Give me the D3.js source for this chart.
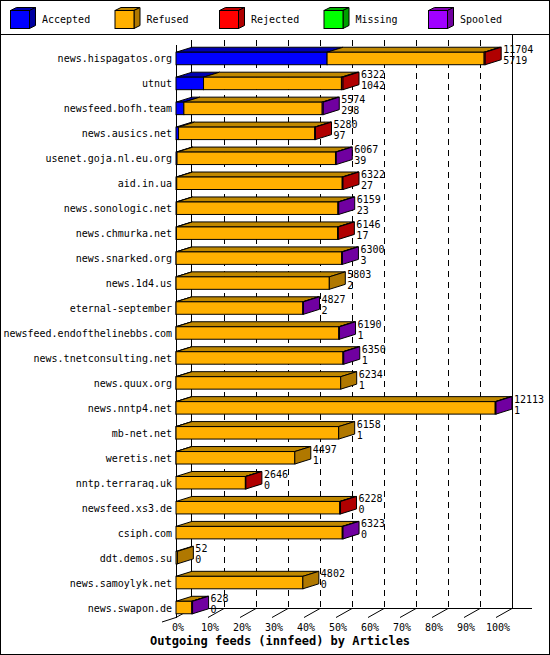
<!DOCTYPE html>
<html><head><meta charset="utf-8">
<script src="https://cdn.jsdelivr.net/npm/d3@7"></script>
<style>body{margin:0;background:#fff}text{font-family:"DejaVu Sans Mono",monospace;font-size:10px}</style>
</head><body><svg id="c" width="550" height="655"></svg>
<script>
// feeds, top to bottom
const feeds = ["news.hispagatos.org","utnut","newsfeed.bofh.team","news.ausics.net","usenet.goja.nl.eu.org","aid.in.ua","news.sonologic.net","news.chmurka.net","news.snarked.org","news.1d4.us","eternal-september","newsfeed.endofthelinebbs.com","news.tnetconsulting.net","news.quux.org","news.nntp4.net","mb-net.net","weretis.net","nntp.terraraq.uk","newsfeed.xs3.de","csiph.com","ddt.demos.su","news.samoylyk.net","news.swapon.de"];
const offered  = [11704,6322,5574,5280,6067,6322,6159,6146,6300,5803,4827,6190,6350,6234,12113,6158,4497,2646,6228,6323,52,4802,628];
const accepted = [5719,1042,298,97,39,27,23,17,3,2,2,1,1,1,1,1,1,0,0,0,0,0,0];
const rejected = [40,60,0,30,0,30,0,30,0,0,0,0,0,0,0,0,0,20,30,0,0,0,0];
const missing  = new Array(23).fill(0);
const spooled  = [0,0,40,0,30,0,30,0,30,0,30,30,30,0,30,0,0,0,0,30,0,0,30];
const refused = offered.map((t,i)=>t-accepted[i]-rejected[i]-missing[i]-spooled[i]);
const seriesNames = ["Accepted","Refused","Rejected","Missing","Spooled"];
const frontCol = ["#0000ff","#ffb000","#ff0000","#00ff00","#a000ff"];
const sideCol  = ["#0000a0","#b07800","#b00000","#00a000","#7000a0"];
const topCol   = ["#0000b0","#c08800","#c00000","#00b000","#8000b0"];

const svg = d3.select("#c");
svg.append("rect").attr("x",0.5).attr("y",0.5).attr("width",549).attr("height",654).attr("fill","#fff").attr("stroke","#000");
svg.append("line").attr("x1",0).attr("x2",550).attr("y1",34.5).attr("y2",34.5).attr("stroke","#000");

// legend
seriesNames.forEach((n,i)=>{
  const g = svg.append("g").attr("transform",`translate(${10+i*104.5},0)`);
  g.append("path").attr("d","M0.5,10.5 L6.5,7.5 L25.5,7.5 L19.5,10.5Z").attr("fill",topCol[i]).attr("stroke","#000");
  g.append("path").attr("d","M19.5,10.5 L25.5,7.5 L25.5,25.5 L19.5,28.5Z").attr("fill",sideCol[i]).attr("stroke","#000");
  g.append("rect").attr("x",0.5).attr("y",10.5).attr("width",19).attr("height",18).attr("fill",frontCol[i]).attr("stroke","#000");
  g.append("text").attr("x",32).attr("y",23).text(n);
});

const X0 = 176, DX = 16, DY = 5;
const maxV = d3.max(offered);
const x = d3.scaleLinear().domain([0,maxV]).range([X0,X0+320]);
const xp = d3.scaleLinear().domain([0,100]).range([X0,X0+320]);
const y = d3.scaleBand().domain(feeds).range([46,620]).paddingInner(0.5).paddingOuter(0.25);
const bottom = 613;

// back wall grid
[10,20,30,40,50,60,70,80,90].forEach(p=>{
  svg.append("line").attr("x1",xp(p)+DX+0.5).attr("x2",xp(p)+DX+0.5).attr("y1",40).attr("y2",bottom-DY)
    .attr("stroke","#000").attr("stroke-dasharray","6,5");
});
svg.append("line").attr("x1",X0+DX-0.5).attr("x2",X0+DX-0.5).attr("y1",40).attr("y2",bottom-DY).attr("stroke","#000");
svg.append("line").attr("x1",xp(100)+DX+0.5).attr("x2",xp(100)+DX+0.5).attr("y1",34).attr("y2",bottom-DY).attr("stroke","#000");
// floor
svg.append("line").attr("x1",X0+DX).attr("x2",532).attr("y1",bottom-DY+0.5).attr("y2",bottom-DY+0.5).attr("stroke","#000");
svg.append("line").attr("x1",162).attr("x2",X0).attr("y1",bottom+9).attr("y2",bottom+4.5).attr("stroke","#000");
d3.range(0,110,10).forEach(p=>{
  svg.append("line").attr("x1",xp(p)).attr("x2",xp(p)+DX).attr("y1",bottom+4.5).attr("y2",bottom-DY+0.5).attr("stroke","#000");
  svg.append("text").attr("x",xp(p)+2).attr("y",bottom+18).attr("text-anchor","middle").text(p+"%");
});
svg.append("line").attr("x1",X0+0.5).attr("x2",X0+0.5).attr("y1",45).attr("y2",bottom+5).attr("stroke","#000");
svg.append("text").attr("x",150).attr("y",645).attr("font-weight","bold").style("font-size","12px").text("Outgoing feeds (innfeed) by Articles");

// bars
feeds.forEach((f,i)=>{
  const vals = [accepted[i],refused[i],rejected[i],missing[i],spooled[i]];
  const y0 = y(f), h = y.bandwidth();
  const g = svg.append("g");
  let acc = 0, last = 1;
  vals.forEach((v,k)=>{
    if (v<=0) return;
    const a = x(acc), b = x(acc+v);
    g.append("path").attr("d",`M${a},${y0} L${a+DX},${y0-DY} L${b+DX},${y0-DY} L${b},${y0}Z`).attr("fill",topCol[k]).attr("stroke","#000");
    g.append("rect").attr("x",a).attr("y",y0).attr("width",b-a).attr("height",h).attr("fill",frontCol[k]).attr("stroke","#000");
    acc += v; last = k;
  });
  const e = x(acc);
  g.append("path").attr("d",`M${e},${y0} L${e+DX},${y0-DY} L${e+DX},${y0+h-DY} L${e},${y0+h}Z`).attr("fill",sideCol[last]).attr("stroke","#000");
  svg.append("text").attr("x",e+DX+2).attr("y",y0+1).text(offered[i]);
  svg.append("text").attr("x",e+DX+2).attr("y",y0+12).text(accepted[i]);
  svg.append("text").attr("x",X0-4).attr("y",y0+h/2+4).attr("text-anchor","end").text(f);
});
</script></body></html>
